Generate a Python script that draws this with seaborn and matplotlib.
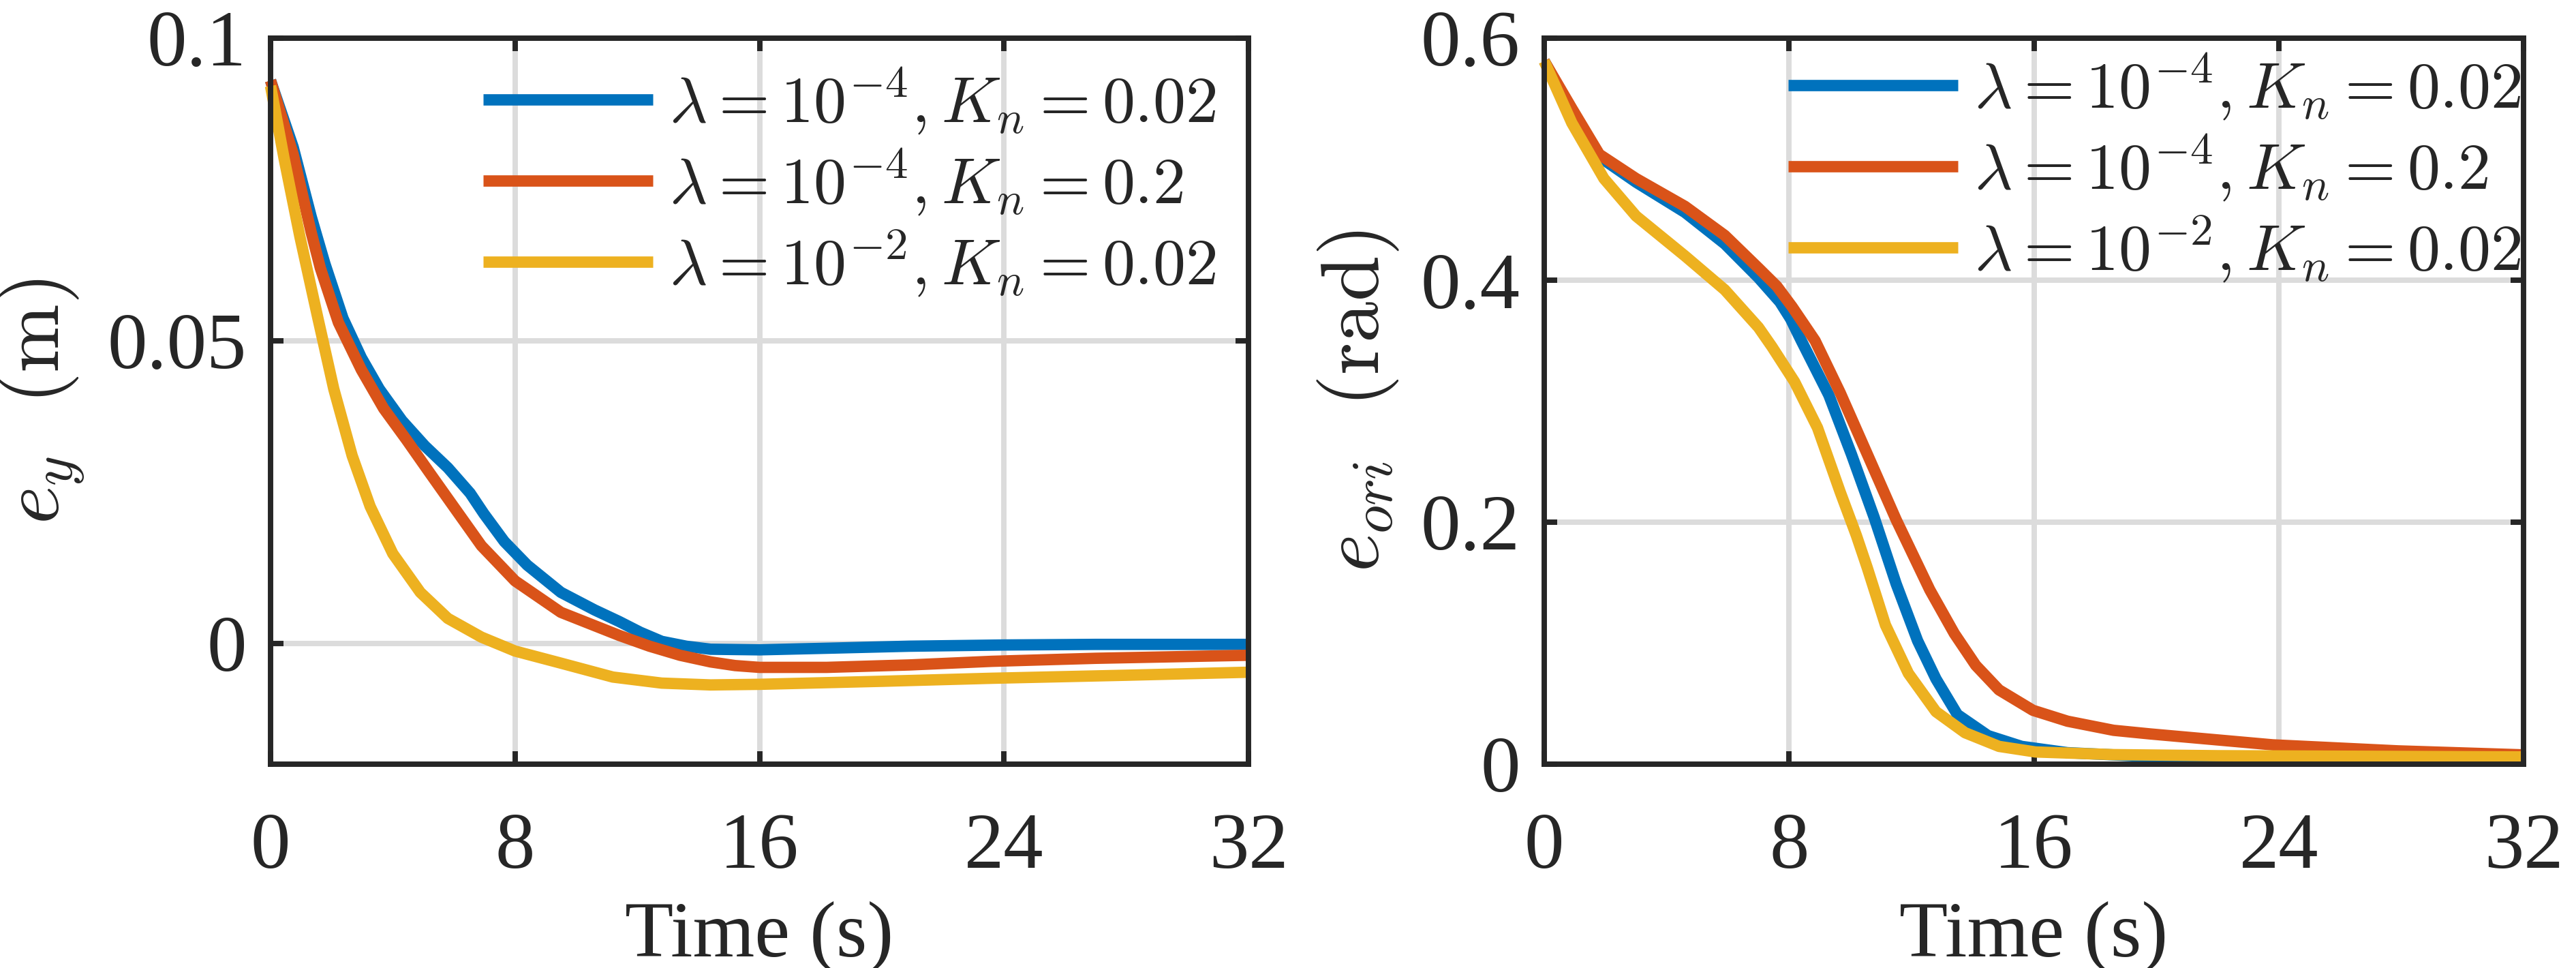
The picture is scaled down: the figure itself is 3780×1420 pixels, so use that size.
import numpy as np
import pandas as pd
import matplotlib
matplotlib.use("Agg")
import matplotlib.pyplot as plt
import seaborn as sns

# ---------------- data ----------------
labels = [r'$\lambda = 10^{-4}, K_n = 0.02$',
          r'$\lambda = 10^{-4}, K_n = 0.2$',
          r'$\lambda = 10^{-2}, K_n = 0.02$']
colors = ['#0072BD', '#D95319', '#EDB120']

# left panel: e_y (m)
ey_blue_t = [0, 0.74, 1.33, 1.78, 2.37, 2.97, 3.56, 4.3, 5.05, 5.8, 6.53, 6.98, 7.65, 8.4, 9.5,
             10.6, 11.4, 12.1, 12.8, 13.6, 14.4, 16.0, 18.5, 20.9, 24.0, 27.0, 32.0]
ey_blue = [0.093, 0.082, 0.0705, 0.0627, 0.0537, 0.0472, 0.042, 0.0368, 0.0326, 0.029, 0.0248,
           0.0214, 0.0168, 0.0129, 0.0084, 0.0055, 0.0036, 0.0018, 0.0003, -0.0005, -0.0010,
           -0.0011, -0.0008, -0.0005, -0.0003, -0.0002, -0.0002]

ey_red_t = [0, 0.74, 1.33, 1.63, 2.22, 2.97, 3.7, 4.45, 5.2, 6.0, 6.9, 8.0, 9.5, 11.4, 12.4, 13.4,
            14.4, 15.2, 16.0, 18.2, 20.9, 23.6, 27.0, 32.0]
ey_red = [0.093, 0.0808, 0.0679, 0.062, 0.053, 0.0452, 0.0388, 0.0336, 0.0282, 0.0225, 0.0161,
          0.0103, 0.0051, 0.0013, -0.0005, -0.0020, -0.0031, -0.0037, -0.0040, -0.0040, -0.0036,
          -0.0030, -0.0025, -0.0020]

ey_yel_t = [0, 0.44, 0.96, 1.55, 2.07, 2.67, 3.26, 4.0, 4.9, 5.8, 6.9, 8.0, 9.5, 11.2, 12.8, 14.4,
            16.0, 20.0, 23.6, 28.0, 32.0]
ey_yel = [0.0921, 0.0802, 0.0672, 0.0537, 0.042, 0.031, 0.0226, 0.0148, 0.0084, 0.0041, 0.001,
          -0.0013, -0.0033, -0.0056, -0.0066, -0.0069, -0.0068, -0.0063, -0.0058, -0.0053, -0.0048]

# right panel: e_ori (rad)
eo_blue_t = [0, 0.9, 1.8, 3.0, 4.6, 5.9, 7.0, 7.7, 8.05, 8.4, 9.3, 10.04, 10.78, 11.5, 12.2, 12.8,
             13.5, 14.5, 15.6, 17.1, 20.0, 24.0, 28.0, 32.0]
eo_blue = [0.581, 0.540, 0.502, 0.481, 0.456, 0.430, 0.402, 0.382, 0.368, 0.350, 0.305, 0.256,
           0.204, 0.149, 0.102, 0.0705, 0.041, 0.0236, 0.0147, 0.0095, 0.006, 0.0045, 0.0035, 0.003]

eo_red_t = [0, 0.9, 1.8, 3.0, 4.6, 5.9, 7.0, 7.6, 8.1, 8.85, 9.67, 10.56, 11.5, 12.6, 13.4, 14.1,
            14.86, 15.97, 17.1, 18.6, 19.8, 23.8, 27.9, 32.0]
eo_red = [0.581, 0.542, 0.504, 0.484, 0.461, 0.437, 0.410, 0.395, 0.378, 0.350, 0.307, 0.256, 0.202,
          0.144, 0.108, 0.0817, 0.0614, 0.0445, 0.0355, 0.028, 0.025, 0.016, 0.011, 0.0077]

eo_yel_t = [0, 0.9, 1.95, 3.0, 4.6, 5.9, 7.0, 7.44, 8.18, 8.93, 9.67, 10.2, 10.56, 11.15, 11.9, 12.8,
            13.75, 14.86, 16.05, 18.6, 22.0, 27.0, 32.0]
eo_yel = [0.581, 0.530, 0.484, 0.453, 0.420, 0.392, 0.361, 0.345, 0.316, 0.278, 0.225, 0.189, 0.162,
          0.115, 0.075, 0.0434, 0.026, 0.0147, 0.0101, 0.0079, 0.0070, 0.0065, 0.006]

xticks = [0, 8, 16, 24, 32]
ey_ticks = [0, 0.05, 0.1]
ey_ticklabels = ['0', '0.05', '0.1']
eo_ticks = [0, 0.2, 0.4, 0.6]
eo_ticklabels = ['0', '0.2', '0.4', '0.6']

# ---------------- style ----------------
sns.set_theme(style="white")
plt.rcParams['font.family'] = ['Liberation Serif', 'DejaVu Serif']
plt.rcParams['mathtext.fontset'] = 'cm'

DARK = '#262626'
GRID = '#dcdcdc'


def long_frame(ts, ys):
    rows = []
    for lab, t, y in zip(labels, ts, ys):
        for a, b in zip(t, y):
            rows.append((a, b, lab))
    return pd.DataFrame(rows, columns=['t', 'v', 'series'])


df_ey = long_frame([ey_blue_t, ey_red_t, ey_yel_t], [ey_blue, ey_red, ey_yel])
df_eo = long_frame([eo_blue_t, eo_red_t, eo_yel_t], [eo_blue, eo_red, eo_yel])

fig = plt.figure(figsize=(12.6, 1420 / 300), dpi=300)
axL = fig.add_axes([397 / 3780, 1 - 1121 / 1420, 1435 / 3780, 1065 / 1420])
axR = fig.add_axes([2266 / 3780, 1 - 1121 / 1420, 1437 / 3780, 1065 / 1420])


def style(ax, df, ylim, yticks, yticklabels, ylabel, leg_anchor):
    sns.lineplot(data=df, x='t', y='v', hue='series', hue_order=labels, palette=colors,
                 estimator=None, sort=True, linewidth=4.0, legend=False, ax=ax)
    for ln in ax.get_lines():
        ln.set_solid_capstyle('butt')
        ln.set_solid_joinstyle('round')
        ln.set_clip_on(False)
    ax.set_xlim(0, 32)
    ax.set_ylim(*ylim)
    ax.set_xticks(xticks)
    ax.set_xticklabels([str(v) for v in xticks])
    ax.set_yticks(yticks)
    ax.set_yticklabels(yticklabels)
    ax.grid(True, color=GRID, linewidth=1.9)
    ax.set_axisbelow(True)
    for s in ax.spines.values():
        s.set_visible(True)
        s.set_color(DARK)
        s.set_linewidth(1.9)
    ax.tick_params(axis='both', which='both', direction='in', length=4.5, width=1.9,
                   colors=DARK, labelsize=28, top=True, right=True, bottom=True, left=True)
    ax.tick_params(axis='x', pad=17)
    ax.tick_params(axis='y', pad=8.5)
    ax.set_xlabel('Time (s)', fontsize=28, color=DARK, labelpad=5.5)
    ax.set_ylabel(ylabel, fontsize=29, color=DARK, labelpad=7)
    lines = ax.get_lines()[:3]
    ax.legend(lines, labels, loc='upper left', bbox_to_anchor=leg_anchor,
              bbox_transform=fig.transFigure, frameon=False, fontsize=23,
              borderpad=0, borderaxespad=0, handlelength=2.6, handletextpad=0.25,
              labelspacing=0.16)


style(axL, df_ey, (-0.02, 0.1), ey_ticks, ey_ticklabels, r'$e_y\ \ \mathrm{(m)}$',
      (709 / 3780, 1 - 97 / 1420))
style(axR, df_eo, (0, 0.6), eo_ticks, eo_ticklabels, r'$e_{ori}\ \ \mathrm{(rad)}$',
      (2624 / 3780, 1 - 76 / 1420))

fig.savefig('out.png', dpi=300, facecolor='white')
